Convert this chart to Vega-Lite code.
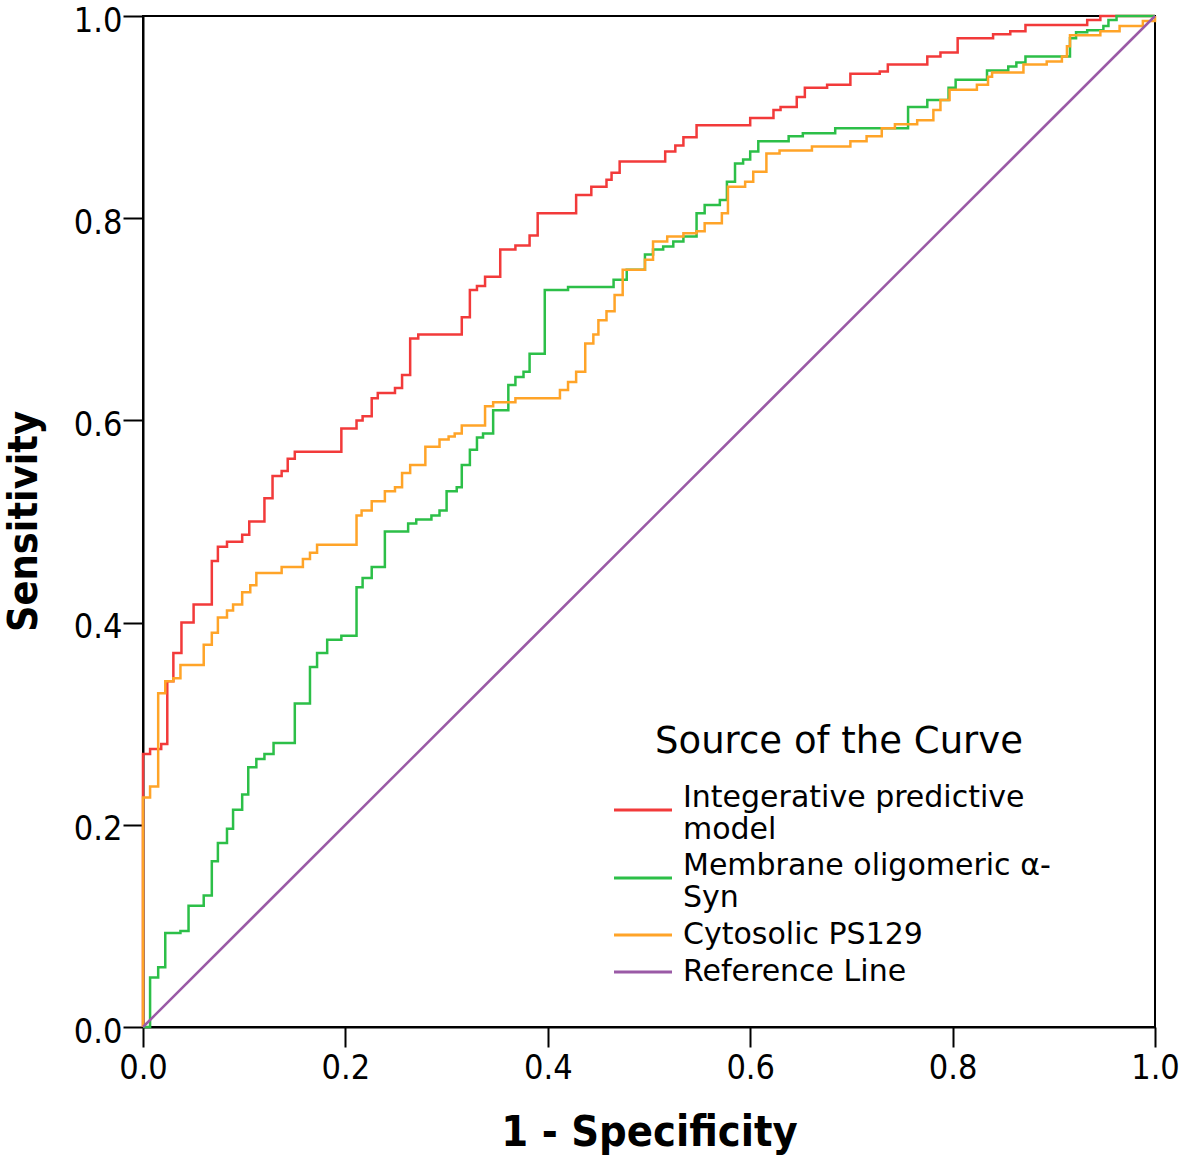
{
  "$schema": "https://vega.github.io/schema/vega-lite/v6.json",
  "width": 1012,
  "height": 1011,
  "autosize": {"type": "none"},
  "padding": {"left": 143, "top": 16, "right": 26, "bottom": 138},
  "background": "white",
  "config": {
    "font": "DejaVu Sans Condensed",
    "view": {"stroke": "black", "strokeWidth": 2},
    "axis": {
      "grid": false,
      "domainColor": "black",
      "domainWidth": 2,
      "tickColor": "black",
      "tickWidth": 2,
      "tickSize": 20,
      "labelFont": "DejaVu Sans Condensed",
      "labelFontSize": 34,
      "labelColor": "black",
      "labelFlush": false,
      "titleFont": "DejaVu Sans Condensed",
      "titleFontWeight": "bold",
      "titleColor": "black"
    }
  },
  "data": {
    "values": [
      {"series": "Integerative predictive model", "x": 0, "y": 0},
      {"series": "Integerative predictive model", "x": 0, "y": 0.27},
      {"series": "Integerative predictive model", "x": 0.007, "y": 0.275},
      {"series": "Integerative predictive model", "x": 0.018, "y": 0.28},
      {"series": "Integerative predictive model", "x": 0.024, "y": 0.342},
      {"series": "Integerative predictive model", "x": 0.03, "y": 0.37},
      {"series": "Integerative predictive model", "x": 0.038, "y": 0.4},
      {"series": "Integerative predictive model", "x": 0.05, "y": 0.418},
      {"series": "Integerative predictive model", "x": 0.068, "y": 0.461},
      {"series": "Integerative predictive model", "x": 0.074, "y": 0.475},
      {"series": "Integerative predictive model", "x": 0.083, "y": 0.48},
      {"series": "Integerative predictive model", "x": 0.098, "y": 0.487},
      {"series": "Integerative predictive model", "x": 0.105, "y": 0.5},
      {"series": "Integerative predictive model", "x": 0.12, "y": 0.523},
      {"series": "Integerative predictive model", "x": 0.128, "y": 0.545},
      {"series": "Integerative predictive model", "x": 0.137, "y": 0.55},
      {"series": "Integerative predictive model", "x": 0.143, "y": 0.562},
      {"series": "Integerative predictive model", "x": 0.15, "y": 0.569},
      {"series": "Integerative predictive model", "x": 0.196, "y": 0.592},
      {"series": "Integerative predictive model", "x": 0.211, "y": 0.6},
      {"series": "Integerative predictive model", "x": 0.217, "y": 0.604},
      {"series": "Integerative predictive model", "x": 0.226, "y": 0.622},
      {"series": "Integerative predictive model", "x": 0.232, "y": 0.627},
      {"series": "Integerative predictive model", "x": 0.249, "y": 0.632},
      {"series": "Integerative predictive model", "x": 0.256, "y": 0.645},
      {"series": "Integerative predictive model", "x": 0.264, "y": 0.681},
      {"series": "Integerative predictive model", "x": 0.272, "y": 0.685},
      {"series": "Integerative predictive model", "x": 0.315, "y": 0.702},
      {"series": "Integerative predictive model", "x": 0.323, "y": 0.729},
      {"series": "Integerative predictive model", "x": 0.33, "y": 0.733},
      {"series": "Integerative predictive model", "x": 0.338, "y": 0.742},
      {"series": "Integerative predictive model", "x": 0.353, "y": 0.769},
      {"series": "Integerative predictive model", "x": 0.368, "y": 0.773},
      {"series": "Integerative predictive model", "x": 0.382, "y": 0.783},
      {"series": "Integerative predictive model", "x": 0.39, "y": 0.805},
      {"series": "Integerative predictive model", "x": 0.428, "y": 0.823},
      {"series": "Integerative predictive model", "x": 0.443, "y": 0.831},
      {"series": "Integerative predictive model", "x": 0.458, "y": 0.838},
      {"series": "Integerative predictive model", "x": 0.463, "y": 0.845},
      {"series": "Integerative predictive model", "x": 0.471, "y": 0.856},
      {"series": "Integerative predictive model", "x": 0.516, "y": 0.866},
      {"series": "Integerative predictive model", "x": 0.526, "y": 0.872},
      {"series": "Integerative predictive model", "x": 0.534, "y": 0.88},
      {"series": "Integerative predictive model", "x": 0.547, "y": 0.892},
      {"series": "Integerative predictive model", "x": 0.6, "y": 0.899},
      {"series": "Integerative predictive model", "x": 0.623, "y": 0.907},
      {"series": "Integerative predictive model", "x": 0.63, "y": 0.91},
      {"series": "Integerative predictive model", "x": 0.646, "y": 0.92},
      {"series": "Integerative predictive model", "x": 0.654, "y": 0.929},
      {"series": "Integerative predictive model", "x": 0.676, "y": 0.932},
      {"series": "Integerative predictive model", "x": 0.699, "y": 0.943},
      {"series": "Integerative predictive model", "x": 0.728, "y": 0.945},
      {"series": "Integerative predictive model", "x": 0.736, "y": 0.952},
      {"series": "Integerative predictive model", "x": 0.775, "y": 0.96},
      {"series": "Integerative predictive model", "x": 0.788, "y": 0.964},
      {"series": "Integerative predictive model", "x": 0.805, "y": 0.978},
      {"series": "Integerative predictive model", "x": 0.84, "y": 0.982},
      {"series": "Integerative predictive model", "x": 0.857, "y": 0.985},
      {"series": "Integerative predictive model", "x": 0.872, "y": 0.991},
      {"series": "Integerative predictive model", "x": 0.933, "y": 0.996},
      {"series": "Integerative predictive model", "x": 0.946, "y": 1.0},
      {"series": "Integerative predictive model", "x": 1.0, "y": 1.0},

      {"series": "Membrane oligomeric α-Syn", "x": 0, "y": 0},
      {"series": "Membrane oligomeric α-Syn", "x": 0.007, "y": 0.049},
      {"series": "Membrane oligomeric α-Syn", "x": 0.015, "y": 0.059},
      {"series": "Membrane oligomeric α-Syn", "x": 0.022, "y": 0.093},
      {"series": "Membrane oligomeric α-Syn", "x": 0.037, "y": 0.095},
      {"series": "Membrane oligomeric α-Syn", "x": 0.045, "y": 0.12},
      {"series": "Membrane oligomeric α-Syn", "x": 0.06, "y": 0.13},
      {"series": "Membrane oligomeric α-Syn", "x": 0.068, "y": 0.164},
      {"series": "Membrane oligomeric α-Syn", "x": 0.074, "y": 0.182},
      {"series": "Membrane oligomeric α-Syn", "x": 0.083, "y": 0.196},
      {"series": "Membrane oligomeric α-Syn", "x": 0.089, "y": 0.215},
      {"series": "Membrane oligomeric α-Syn", "x": 0.098, "y": 0.23},
      {"series": "Membrane oligomeric α-Syn", "x": 0.104, "y": 0.257},
      {"series": "Membrane oligomeric α-Syn", "x": 0.112, "y": 0.265},
      {"series": "Membrane oligomeric α-Syn", "x": 0.12, "y": 0.27},
      {"series": "Membrane oligomeric α-Syn", "x": 0.129, "y": 0.281},
      {"series": "Membrane oligomeric α-Syn", "x": 0.15, "y": 0.32},
      {"series": "Membrane oligomeric α-Syn", "x": 0.165, "y": 0.356},
      {"series": "Membrane oligomeric α-Syn", "x": 0.172, "y": 0.37},
      {"series": "Membrane oligomeric α-Syn", "x": 0.182, "y": 0.383},
      {"series": "Membrane oligomeric α-Syn", "x": 0.196, "y": 0.387},
      {"series": "Membrane oligomeric α-Syn", "x": 0.211, "y": 0.435},
      {"series": "Membrane oligomeric α-Syn", "x": 0.217, "y": 0.444},
      {"series": "Membrane oligomeric α-Syn", "x": 0.226, "y": 0.455},
      {"series": "Membrane oligomeric α-Syn", "x": 0.239, "y": 0.49},
      {"series": "Membrane oligomeric α-Syn", "x": 0.262, "y": 0.498},
      {"series": "Membrane oligomeric α-Syn", "x": 0.27, "y": 0.502},
      {"series": "Membrane oligomeric α-Syn", "x": 0.285, "y": 0.506},
      {"series": "Membrane oligomeric α-Syn", "x": 0.293, "y": 0.511},
      {"series": "Membrane oligomeric α-Syn", "x": 0.3, "y": 0.53},
      {"series": "Membrane oligomeric α-Syn", "x": 0.31, "y": 0.534},
      {"series": "Membrane oligomeric α-Syn", "x": 0.315, "y": 0.556},
      {"series": "Membrane oligomeric α-Syn", "x": 0.323, "y": 0.571},
      {"series": "Membrane oligomeric α-Syn", "x": 0.33, "y": 0.583},
      {"series": "Membrane oligomeric α-Syn", "x": 0.336, "y": 0.587},
      {"series": "Membrane oligomeric α-Syn", "x": 0.346, "y": 0.61},
      {"series": "Membrane oligomeric α-Syn", "x": 0.361, "y": 0.635},
      {"series": "Membrane oligomeric α-Syn", "x": 0.368, "y": 0.643},
      {"series": "Membrane oligomeric α-Syn", "x": 0.376, "y": 0.648},
      {"series": "Membrane oligomeric α-Syn", "x": 0.382, "y": 0.666},
      {"series": "Membrane oligomeric α-Syn", "x": 0.397, "y": 0.729},
      {"series": "Membrane oligomeric α-Syn", "x": 0.42, "y": 0.732},
      {"series": "Membrane oligomeric α-Syn", "x": 0.465, "y": 0.739},
      {"series": "Membrane oligomeric α-Syn", "x": 0.478, "y": 0.749},
      {"series": "Membrane oligomeric α-Syn", "x": 0.496, "y": 0.764},
      {"series": "Membrane oligomeric α-Syn", "x": 0.504, "y": 0.769},
      {"series": "Membrane oligomeric α-Syn", "x": 0.514, "y": 0.772},
      {"series": "Membrane oligomeric α-Syn", "x": 0.524, "y": 0.777},
      {"series": "Membrane oligomeric α-Syn", "x": 0.534, "y": 0.782},
      {"series": "Membrane oligomeric α-Syn", "x": 0.547, "y": 0.805},
      {"series": "Membrane oligomeric α-Syn", "x": 0.555, "y": 0.813},
      {"series": "Membrane oligomeric α-Syn", "x": 0.57, "y": 0.818},
      {"series": "Membrane oligomeric α-Syn", "x": 0.577, "y": 0.836},
      {"series": "Membrane oligomeric α-Syn", "x": 0.585, "y": 0.854},
      {"series": "Membrane oligomeric α-Syn", "x": 0.593, "y": 0.858},
      {"series": "Membrane oligomeric α-Syn", "x": 0.6, "y": 0.866},
      {"series": "Membrane oligomeric α-Syn", "x": 0.608, "y": 0.876},
      {"series": "Membrane oligomeric α-Syn", "x": 0.638, "y": 0.881},
      {"series": "Membrane oligomeric α-Syn", "x": 0.652, "y": 0.884},
      {"series": "Membrane oligomeric α-Syn", "x": 0.684, "y": 0.889},
      {"series": "Membrane oligomeric α-Syn", "x": 0.756, "y": 0.91},
      {"series": "Membrane oligomeric α-Syn", "x": 0.775, "y": 0.917},
      {"series": "Membrane oligomeric α-Syn", "x": 0.796, "y": 0.929},
      {"series": "Membrane oligomeric α-Syn", "x": 0.803, "y": 0.937},
      {"series": "Membrane oligomeric α-Syn", "x": 0.834, "y": 0.946},
      {"series": "Membrane oligomeric α-Syn", "x": 0.855, "y": 0.95},
      {"series": "Membrane oligomeric α-Syn", "x": 0.863, "y": 0.954},
      {"series": "Membrane oligomeric α-Syn", "x": 0.872, "y": 0.96},
      {"series": "Membrane oligomeric α-Syn", "x": 0.916, "y": 0.978},
      {"series": "Membrane oligomeric α-Syn", "x": 0.922, "y": 0.984},
      {"series": "Membrane oligomeric α-Syn", "x": 0.933, "y": 0.986},
      {"series": "Membrane oligomeric α-Syn", "x": 0.949, "y": 0.99},
      {"series": "Membrane oligomeric α-Syn", "x": 0.954, "y": 0.996},
      {"series": "Membrane oligomeric α-Syn", "x": 0.962, "y": 1.0},
      {"series": "Membrane oligomeric α-Syn", "x": 1.0, "y": 1.0},

      {"series": "Cytosolic PS129", "x": 0, "y": 0},
      {"series": "Cytosolic PS129", "x": 0, "y": 0.227},
      {"series": "Cytosolic PS129", "x": 0.007, "y": 0.238},
      {"series": "Cytosolic PS129", "x": 0.015, "y": 0.33},
      {"series": "Cytosolic PS129", "x": 0.022, "y": 0.342},
      {"series": "Cytosolic PS129", "x": 0.03, "y": 0.345},
      {"series": "Cytosolic PS129", "x": 0.037, "y": 0.358},
      {"series": "Cytosolic PS129", "x": 0.06, "y": 0.378},
      {"series": "Cytosolic PS129", "x": 0.068, "y": 0.39},
      {"series": "Cytosolic PS129", "x": 0.074, "y": 0.405},
      {"series": "Cytosolic PS129", "x": 0.083, "y": 0.412},
      {"series": "Cytosolic PS129", "x": 0.089, "y": 0.418},
      {"series": "Cytosolic PS129", "x": 0.098, "y": 0.43},
      {"series": "Cytosolic PS129", "x": 0.106, "y": 0.437},
      {"series": "Cytosolic PS129", "x": 0.112, "y": 0.449},
      {"series": "Cytosolic PS129", "x": 0.137, "y": 0.455},
      {"series": "Cytosolic PS129", "x": 0.158, "y": 0.463},
      {"series": "Cytosolic PS129", "x": 0.165, "y": 0.469},
      {"series": "Cytosolic PS129", "x": 0.172, "y": 0.477},
      {"series": "Cytosolic PS129", "x": 0.211, "y": 0.506},
      {"series": "Cytosolic PS129", "x": 0.216, "y": 0.511},
      {"series": "Cytosolic PS129", "x": 0.226, "y": 0.52},
      {"series": "Cytosolic PS129", "x": 0.239, "y": 0.53},
      {"series": "Cytosolic PS129", "x": 0.249, "y": 0.534},
      {"series": "Cytosolic PS129", "x": 0.256, "y": 0.548},
      {"series": "Cytosolic PS129", "x": 0.264, "y": 0.556},
      {"series": "Cytosolic PS129", "x": 0.279, "y": 0.574},
      {"series": "Cytosolic PS129", "x": 0.293, "y": 0.581},
      {"series": "Cytosolic PS129", "x": 0.302, "y": 0.584},
      {"series": "Cytosolic PS129", "x": 0.308, "y": 0.587},
      {"series": "Cytosolic PS129", "x": 0.315, "y": 0.595},
      {"series": "Cytosolic PS129", "x": 0.338, "y": 0.614},
      {"series": "Cytosolic PS129", "x": 0.346, "y": 0.618},
      {"series": "Cytosolic PS129", "x": 0.368, "y": 0.622},
      {"series": "Cytosolic PS129", "x": 0.412, "y": 0.63},
      {"series": "Cytosolic PS129", "x": 0.42, "y": 0.638},
      {"series": "Cytosolic PS129", "x": 0.428, "y": 0.648},
      {"series": "Cytosolic PS129", "x": 0.437, "y": 0.676},
      {"series": "Cytosolic PS129", "x": 0.445, "y": 0.685},
      {"series": "Cytosolic PS129", "x": 0.45, "y": 0.699},
      {"series": "Cytosolic PS129", "x": 0.458, "y": 0.708},
      {"series": "Cytosolic PS129", "x": 0.466, "y": 0.724},
      {"series": "Cytosolic PS129", "x": 0.474, "y": 0.749},
      {"series": "Cytosolic PS129", "x": 0.496, "y": 0.759},
      {"series": "Cytosolic PS129", "x": 0.504, "y": 0.777},
      {"series": "Cytosolic PS129", "x": 0.518, "y": 0.782},
      {"series": "Cytosolic PS129", "x": 0.534, "y": 0.785},
      {"series": "Cytosolic PS129", "x": 0.547, "y": 0.787},
      {"series": "Cytosolic PS129", "x": 0.555, "y": 0.795},
      {"series": "Cytosolic PS129", "x": 0.572, "y": 0.805},
      {"series": "Cytosolic PS129", "x": 0.578, "y": 0.831},
      {"series": "Cytosolic PS129", "x": 0.595, "y": 0.836},
      {"series": "Cytosolic PS129", "x": 0.603, "y": 0.846},
      {"series": "Cytosolic PS129", "x": 0.616, "y": 0.864},
      {"series": "Cytosolic PS129", "x": 0.629, "y": 0.867},
      {"series": "Cytosolic PS129", "x": 0.661, "y": 0.871},
      {"series": "Cytosolic PS129", "x": 0.699, "y": 0.876},
      {"series": "Cytosolic PS129", "x": 0.715, "y": 0.881},
      {"series": "Cytosolic PS129", "x": 0.73, "y": 0.889},
      {"series": "Cytosolic PS129", "x": 0.743, "y": 0.893},
      {"series": "Cytosolic PS129", "x": 0.765, "y": 0.897},
      {"series": "Cytosolic PS129", "x": 0.781, "y": 0.907},
      {"series": "Cytosolic PS129", "x": 0.788, "y": 0.917},
      {"series": "Cytosolic PS129", "x": 0.797, "y": 0.927},
      {"series": "Cytosolic PS129", "x": 0.824, "y": 0.932},
      {"series": "Cytosolic PS129", "x": 0.835, "y": 0.94},
      {"series": "Cytosolic PS129", "x": 0.839, "y": 0.944},
      {"series": "Cytosolic PS129", "x": 0.87, "y": 0.952},
      {"series": "Cytosolic PS129", "x": 0.893, "y": 0.955},
      {"series": "Cytosolic PS129", "x": 0.908, "y": 0.96},
      {"series": "Cytosolic PS129", "x": 0.913, "y": 0.97},
      {"series": "Cytosolic PS129", "x": 0.916, "y": 0.981},
      {"series": "Cytosolic PS129", "x": 0.946, "y": 0.985},
      {"series": "Cytosolic PS129", "x": 0.965, "y": 0.99},
      {"series": "Cytosolic PS129", "x": 0.988, "y": 0.995},
      {"series": "Cytosolic PS129", "x": 1.0, "y": 1.0},

      {"series": "Reference Line", "x": 0, "y": 0},
      {"series": "Reference Line", "x": 1, "y": 1}
    ]
  },
  "encoding": {
    "x": {
      "field": "x",
      "type": "quantitative",
      "scale": {"domain": [0, 1], "nice": false, "zero": false},
      "axis": {
        "title": "1 - Specificity",
        "titleFontSize": 43,
        "values": [0, 0.2, 0.4, 0.6, 0.8, 1.0],
        "format": ".1f",
        "labelPadding": 4,
        "titleY": 84
      }
    },
    "y": {
      "field": "y",
      "type": "quantitative",
      "scale": {"domain": [0, 1], "nice": false, "zero": false},
      "axis": {
        "title": "Sensitivity",
        "titleFontSize": 41,
        "values": [0, 0.2, 0.4, 0.6, 0.8, 1.0],
        "format": ".1f",
        "labelPadding": 1,
        "labelOffset": 5,
        "titleX": -98,
        "titleY": 505
      }
    },
    "color": {
      "field": "series",
      "type": "nominal",
      "scale": {
        "domain": ["Integerative predictive model", "Membrane oligomeric α-Syn", "Cytosolic PS129", "Reference Line"],
        "range": ["#f23a3a", "#2cbf48", "#ffa428", "#9a5aa6"]
      },
      "legend": {
        "title": "Source of the Curve",
        "orient": "none",
        "legendX": 484,
        "legendY": 708,
        "padding": 0,
        "titleFont": "DejaVu Sans",
        "titleFontSize": 37,
        "titleFontWeight": "normal",
        "titleColor": "black",
        "titleAnchor": "middle",
        "titleLimit": 1000,
        "titlePadding": 33,
        "labelFont": "DejaVu Sans",
        "labelFontSize": 30,
        "labelColor": "black",
        "labelLimit": 1000,
        "labelOffset": 24,
        "rowPadding": 6,
        "symbolType": "M-2,0H2",
        "symbolSize": 841,
        "symbolStrokeWidth": 3,
        "labelExpr": "datum.label == 'Integerative predictive model' ? ['Integerative predictive', 'model'] : datum.label == 'Membrane oligomeric α-Syn' ? ['Membrane oligomeric α-', 'Syn'] : datum.label",
        "encode": {
          "labels": {
            "update": {
              "dy": {"signal": "datum.value == 'Integerative predictive model' || datum.value == 'Membrane oligomeric α-Syn' ? -12 : 0"}
            }
          }
        }
      }
    }
  },
  "layer": [
    {
      "transform": [{"filter": "datum.series != 'Reference Line'"}],
      "mark": {"type": "line", "interpolate": "step-after", "strokeWidth": 2.5}
    },
    {
      "transform": [{"filter": "datum.series == 'Reference Line'"}],
      "mark": {"type": "line", "interpolate": "linear", "strokeWidth": 2.5}
    }
  ]
}
